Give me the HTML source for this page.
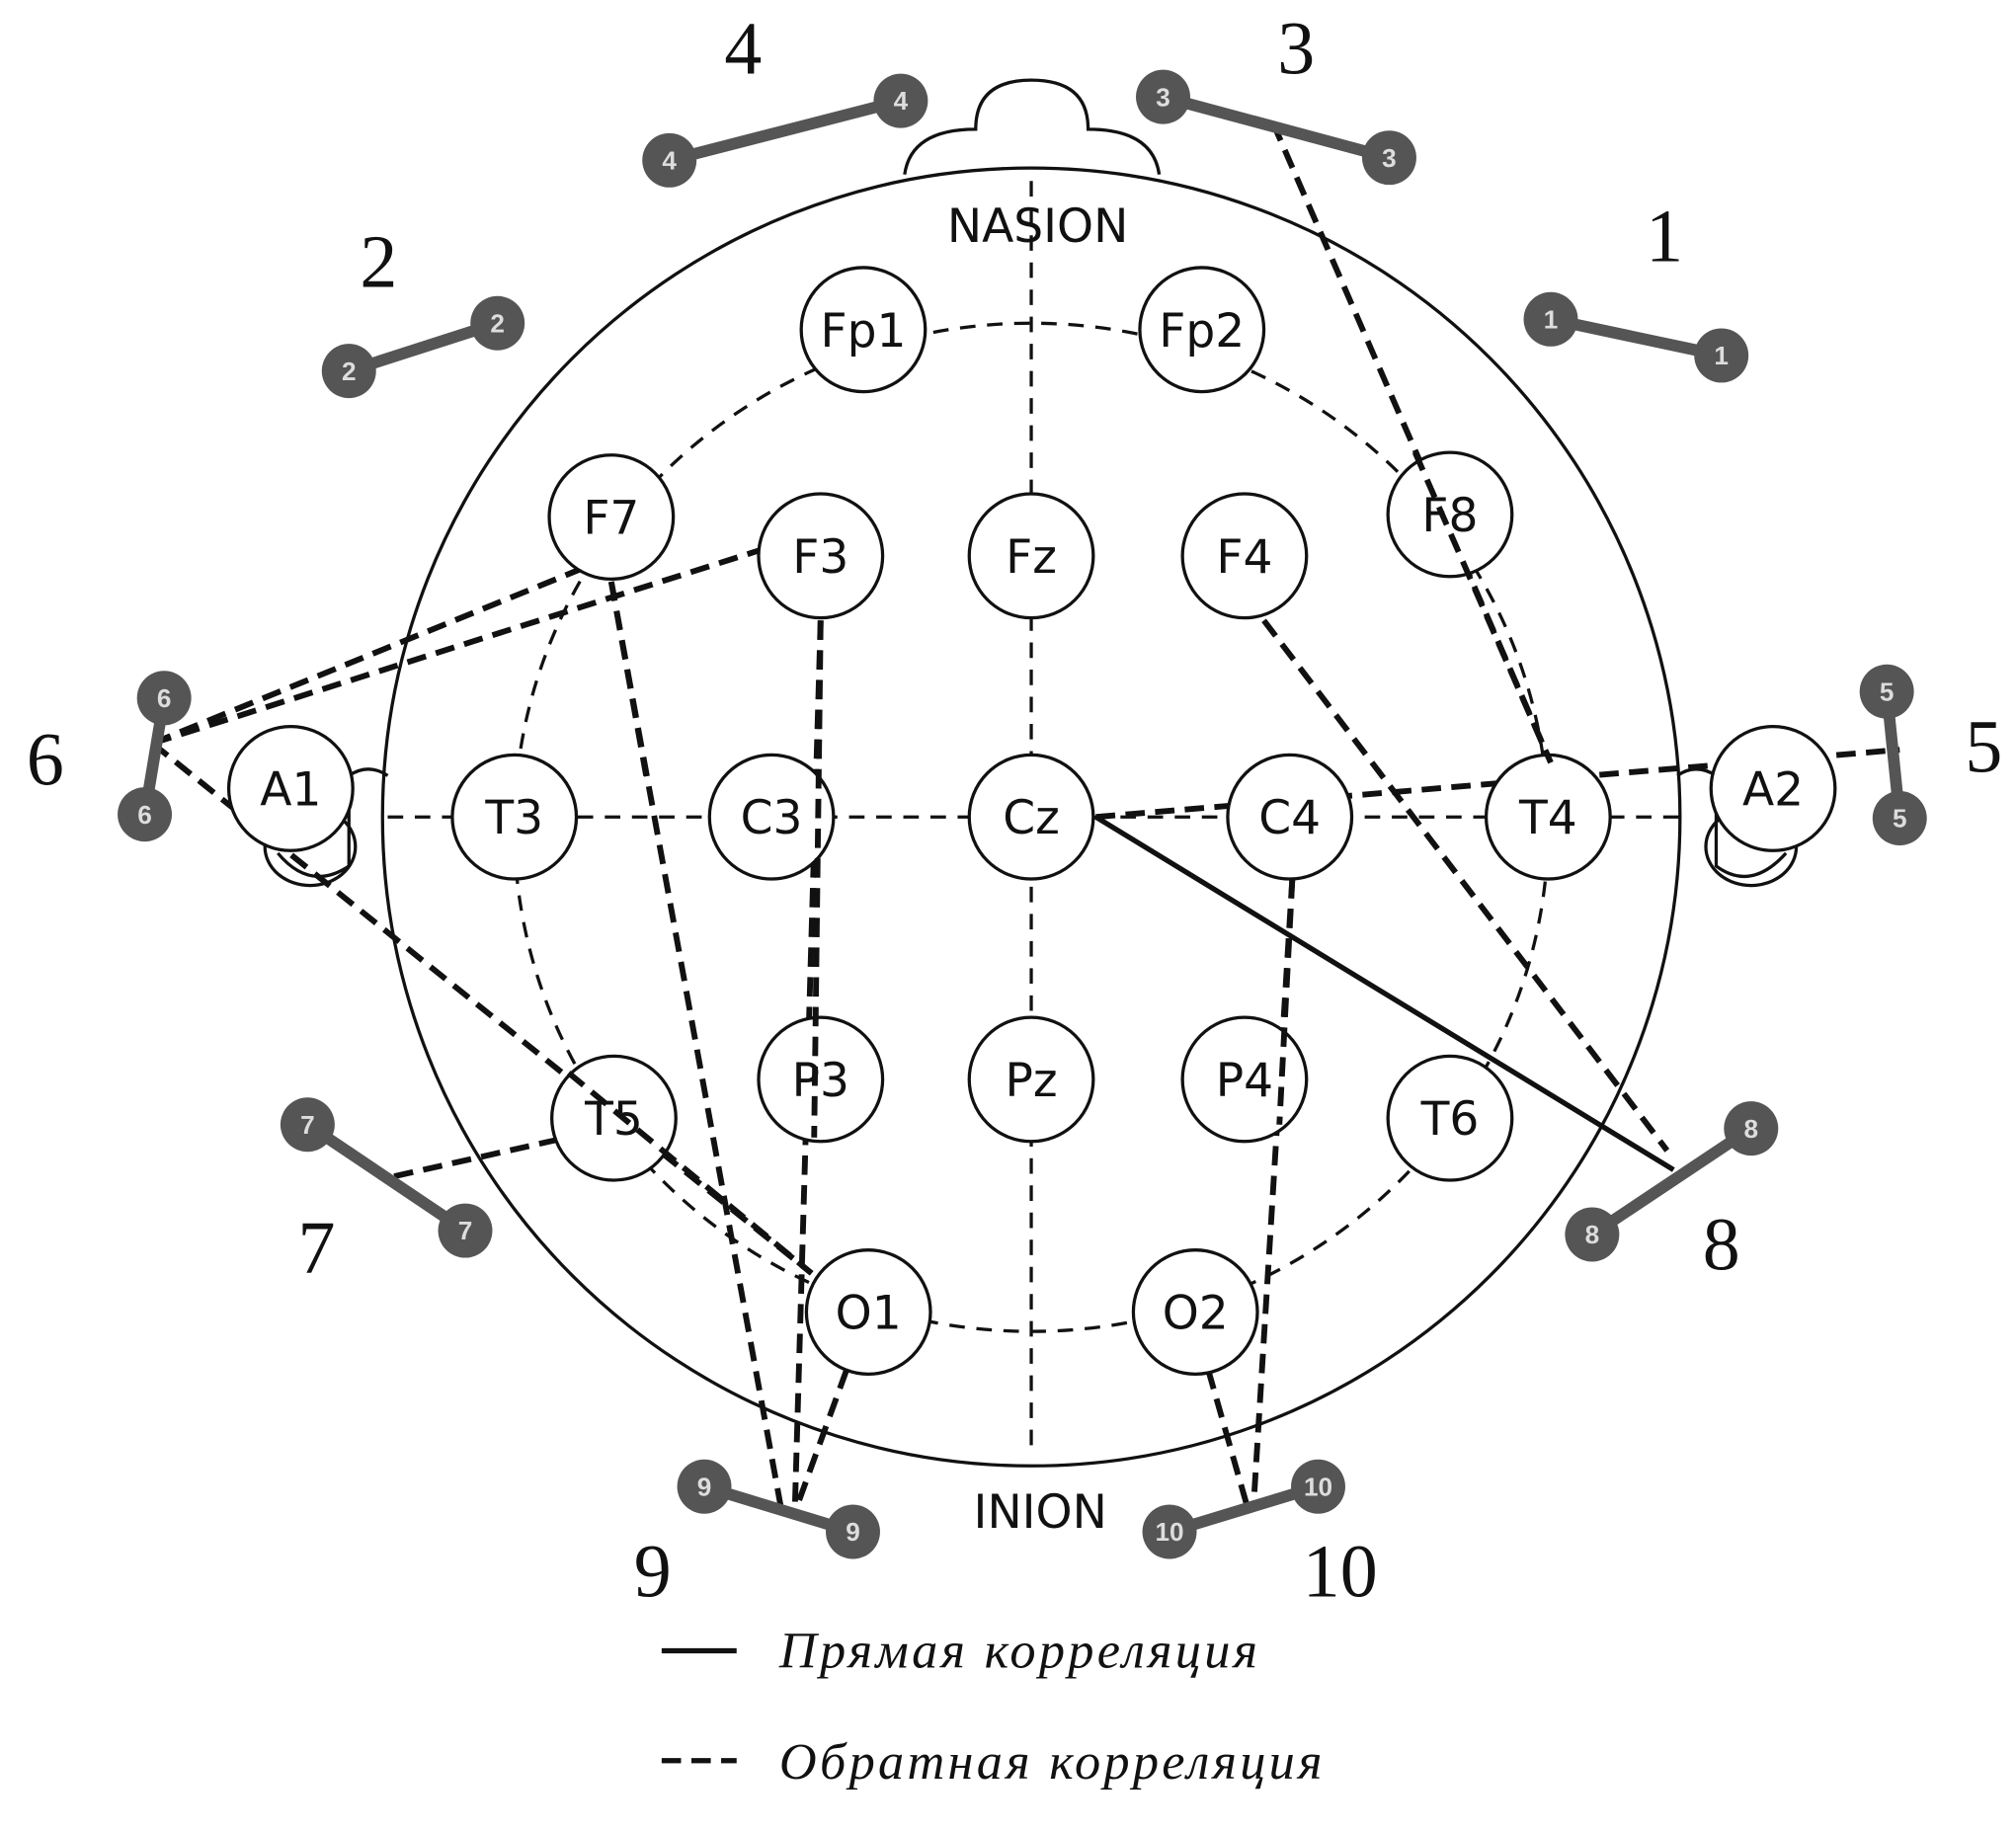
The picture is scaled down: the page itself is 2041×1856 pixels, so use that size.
<!DOCTYPE html>
<html><head><meta charset="utf-8"><style>html,body{margin:0;padding:0;background:#fff}svg{display:block}</style></head>
<body>
<svg width="2041" height="1856" viewBox="0 0 1560 1418" preserveAspectRatio="none" xmlns="http://www.w3.org/2000/svg">
<rect width="1560" height="1418" fill="#fff"/>
<g fill="none" stroke="#111" stroke-width="2.5">
<path d="M700,135 Q705,100 755,100 Q755,62 798,62 Q842,62 842,100 Q892,100 897,135" fill="#fff"/>
<circle cx="798" cy="632" r="502"/>
<path d="M300,600 Q285,590 270,600 L270,670 Q240,690 215,660" />
<path d="M1298,600 Q1312,590 1328,600 L1328,670 Q1355,690 1382,660"/>
<ellipse cx="240" cy="655" rx="35" ry="30"/>
<ellipse cx="1355" cy="655" rx="35" ry="30"/>
</g>
<g fill="none" stroke="#111" stroke-width="2.5" stroke-dasharray="12,9">
<line x1="798" y1="140" x2="798" y2="1120"/>
<line x1="300" y1="632" x2="1300" y2="632"/>
<ellipse cx="798" cy="640" rx="400" ry="390"/>
</g>
<g fill="none" stroke="#111" stroke-width="4.5" stroke-dasharray="15,8">
<line x1="985" y1="95" x2="1200" y2="590"/>
<line x1="978" y1="480" x2="1290" y2="890"/>
<line x1="118" y1="575" x2="450" y2="440"/>
<line x1="118" y1="575" x2="590" y2="425"/>
<line x1="118" y1="575" x2="628" y2="985"/>
<line x1="473" y1="450" x2="605" y2="1170"/>
<line x1="635" y1="480" x2="615" y2="1170"/>
<line x1="655" y1="1060" x2="615" y2="1170"/>
<line x1="1000" y1="680" x2="970" y2="1165"/>
<line x1="935" y1="1060" x2="965" y2="1165"/>
<line x1="848" y1="632" x2="1470" y2="580"/>
<line x1="305" y1="910" x2="430" y2="882"/>
</g>
<line x1="848" y1="632" x2="1295" y2="905" stroke="#111" stroke-width="4"/>
<g fill="#fff" stroke="#111" stroke-width="2.5">
<circle cx="668" cy="255" r="48"/><circle cx="930" cy="255" r="48"/>
<circle cx="473" cy="400" r="48"/><circle cx="635" cy="430" r="48"/><circle cx="798" cy="430" r="48"/><circle cx="963" cy="430" r="48"/><circle cx="1122" cy="398" r="48"/>
<circle cx="225" cy="610" r="48"/><circle cx="398" cy="632" r="48"/><circle cx="597" cy="632" r="48"/><circle cx="798" cy="632" r="48"/><circle cx="998" cy="632" r="48"/><circle cx="1198" cy="632" r="48"/><circle cx="1372" cy="610" r="48"/>
<circle cx="475" cy="865" r="48"/><circle cx="635" cy="835" r="48"/><circle cx="798" cy="835" r="48"/><circle cx="963" cy="835" r="48"/><circle cx="1122" cy="865" r="48"/>
<circle cx="672" cy="1015" r="48"/><circle cx="925" cy="1015" r="48"/>
</g>
<g fill="none" stroke="#111" stroke-width="4.5" stroke-dasharray="15,8">
<line x1="1095" y1="350" x2="1200" y2="590"/>
<line x1="473" y1="450" x2="500" y2="600"/>
<line x1="635" y1="480" x2="630" y2="880"/>
<line x1="1000" y1="680" x2="990" y2="870"/>
<line x1="440" y1="830" x2="628" y2="985"/>
</g>
<g font-family="'DejaVu Sans',sans-serif" font-size="36" fill="#111" text-anchor="middle">
<text x="668" y="268">Fp1</text><text x="930" y="268">Fp2</text>
<text x="473" y="413">F7</text><text x="635" y="443">F3</text><text x="798" y="443">Fz</text><text x="963" y="443">F4</text><text x="1122" y="411">F8</text>
<text x="225" y="623">A1</text><text x="398" y="645">T3</text><text x="597" y="645">C3</text><text x="798" y="645">Cz</text><text x="998" y="645">C4</text><text x="1198" y="645">T4</text><text x="1372" y="623">A2</text>
<text x="475" y="878">T5</text><text x="635" y="848">P3</text><text x="798" y="848">Pz</text><text x="963" y="848">P4</text><text x="1122" y="878">T6</text>
<text x="672" y="1028">O1</text><text x="925" y="1028">O2</text>
<text x="803" y="187">NASION</text><text x="805" y="1182">INION</text>
</g>
<g stroke="#555" stroke-width="9">
<line x1="1200" y1="247" x2="1332" y2="275"/><line x1="270" y1="287" x2="385" y2="250"/>
<line x1="900" y1="75" x2="1075" y2="122"/><line x1="518" y1="124" x2="697" y2="78"/>
<line x1="1460" y1="535" x2="1470" y2="633"/><line x1="127" y1="540" x2="112" y2="630"/>
<line x1="238" y1="870" x2="360" y2="952"/><line x1="1232" y1="955" x2="1355" y2="873"/>
<line x1="545" y1="1150" x2="660" y2="1185"/><line x1="905" y1="1185" x2="1020" y2="1150"/>
</g>
<g fill="#555"><circle cx="1200" cy="247" r="21"/><circle cx="1332" cy="275" r="21"/><circle cx="270" cy="287" r="21"/><circle cx="385" cy="250" r="21"/><circle cx="900" cy="75" r="21"/><circle cx="1075" cy="122" r="21"/><circle cx="518" cy="124" r="21"/><circle cx="697" cy="78" r="21"/><circle cx="1460" cy="535" r="21"/><circle cx="1470" cy="633" r="21"/><circle cx="127" cy="540" r="21"/><circle cx="112" cy="630" r="21"/><circle cx="238" cy="870" r="21"/><circle cx="360" cy="952" r="21"/><circle cx="1232" cy="955" r="21"/><circle cx="1355" cy="873" r="21"/><circle cx="545" cy="1150" r="21"/><circle cx="660" cy="1185" r="21"/><circle cx="905" cy="1185" r="21"/><circle cx="1020" cy="1150" r="21"/></g>
<g font-family="'Liberation Sans',sans-serif" font-size="20" font-weight="bold" fill="#ddd" text-anchor="middle">
<text x="1200" y="254">1</text><text x="1332" y="282">1</text><text x="270" y="294">2</text><text x="385" y="257">2</text><text x="900" y="82">3</text><text x="1075" y="129">3</text><text x="518" y="131">4</text><text x="697" y="85">4</text><text x="1460" y="542">5</text><text x="1470" y="640">5</text><text x="127" y="547">6</text><text x="112" y="637">6</text><text x="238" y="877">7</text><text x="360" y="959">7</text><text x="1232" y="962">8</text><text x="1355" y="880">8</text><text x="545" y="1157">9</text><text x="660" y="1192">9</text><text x="905" y="1192">10</text><text x="1020" y="1157">10</text>
</g>
<g font-family="'Liberation Serif',serif" font-size="58" fill="#111" text-anchor="middle">
<text x="575" y="57">4</text><text x="1003" y="57">3</text><text x="293" y="222">2</text><text x="1288" y="202">1</text><text x="35" y="607">6</text><text x="1535" y="597">5</text><text x="245" y="985">7</text><text x="1332" y="982">8</text><text x="505" y="1235">9</text><text x="1037" y="1235">10</text>
</g>
<line x1="512" y1="1277" x2="570" y2="1277" stroke="#111" stroke-width="4"/>
<line x1="512" y1="1362" x2="570" y2="1362" stroke="#111" stroke-width="4" stroke-dasharray="15,8"/>
<g font-family="'Liberation Serif',serif" font-style="italic" font-size="40" fill="#111">
<text x="603" y="1290" textLength="370">Прямая корреляция</text>
<text x="603" y="1376" textLength="420">Обратная корреляция</text>
</g>
</svg>
</body></html>
